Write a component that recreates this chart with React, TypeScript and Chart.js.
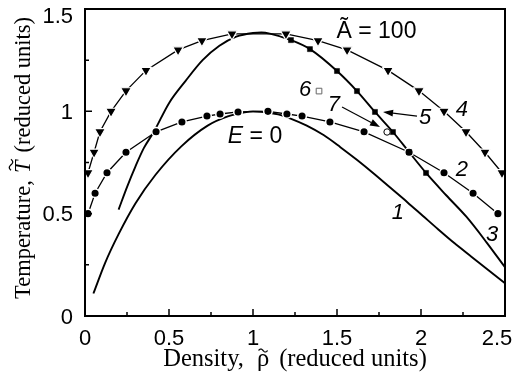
import React, { useEffect, useRef } from "react";
import { Chart, registerables } from "chart.js";

Chart.register(...registerables);

// Curve 1 (E = 0), solid
const curve1X = [0.05, 0.12, 0.2, 0.3, 0.42, 0.575, 0.73, 0.85, 0.95, 1.0, 1.05, 1.15, 1.22, 1.32, 1.42, 1.52, 1.62, 1.72, 1.82, 1.92, 2.01, 2.1, 2.2, 2.3, 2.4, 2.5];
const curve1Y = [0.11, 0.26, 0.4, 0.55, 0.69, 0.83, 0.93, 0.975, 0.995, 1.0, 0.998, 0.985, 0.966, 0.93, 0.884, 0.825, 0.762, 0.695, 0.625, 0.555, 0.49, 0.425, 0.355, 0.29, 0.225, 0.16];

// Curve 3 (A = 100), solid
const curve3X = [0.2, 0.25, 0.3, 0.35, 0.41, 0.5, 0.6, 0.7, 0.8, 0.9, 1.0, 1.05, 1.1, 1.226, 1.339, 1.5, 1.619, 1.726, 1.833, 1.929, 2.03, 2.15, 2.27, 2.39, 2.5];
const curve3Y = [0.52, 0.63, 0.73, 0.82, 0.9, 1.04, 1.15, 1.25, 1.32, 1.365, 1.383, 1.385, 1.38, 1.348, 1.304, 1.197, 1.099, 0.997, 0.899, 0.801, 0.699, 0.59, 0.485, 0.36, 0.238];

// Curve 2, circles
const curve2X = [0.018, 0.06, 0.131, 0.244, 0.423, 0.577, 0.726, 0.804, 0.911, 1.089, 1.202, 1.292, 1.458, 1.661, 1.929, 2.137, 2.31, 2.458];
const curve2Y = [0.5, 0.6, 0.7, 0.8, 0.9, 0.948, 0.977, 0.987, 0.997, 1.0, 0.987, 0.977, 0.948, 0.9, 0.8, 0.7, 0.6, 0.5];

// Curve 4, triangles
const curve4X = [0.018, 0.054, 0.089, 0.155, 0.244, 0.363, 0.554, 0.696, 0.875, 1.196, 1.387, 1.56, 1.804, 1.988, 2.137, 2.268, 2.381, 2.482];
const curve4Y = [0.7, 0.8, 0.9, 1.0, 1.1, 1.2, 1.3, 1.345, 1.378, 1.378, 1.345, 1.3, 1.2, 1.1, 1.0, 0.9, 0.8, 0.7];

// Curve 5, squares
const curve5X = [1.226, 1.339, 1.5, 1.619, 1.726, 1.833, 1.929, 2.03];
const curve5Y = [1.348, 1.304, 1.197, 1.099, 0.997, 0.899, 0.801, 0.699];

// Points 6 and 7
const point6X = [1.393];
const point6Y = [1.099];
const point7X = [1.798];
const point7Y = [0.899];

// Axis ticks
const xTickLabels = [0, 0.5, 1, 1.5, 2, 2.5];
const yTickLabels = [0, 0.5, 1, 1.5];
const xMinorTicks = [0.25, 0.75, 1.25, 1.75, 2.25];
const yMinorTicks = [0.25, 0.75, 1.25];

const toPts = (xs: number[], ys: number[]) => xs.map((x, i) => ({ x, y: ys[i] }));

const SANS = '"Liberation Sans", Arial, sans-serif';
const SERIF = '"Liberation Serif", "Times New Roman", serif';

function arrow(ctx: CanvasRenderingContext2D, x1: number, y1: number, x2: number, y2: number) {
  const ang = Math.atan2(y2 - y1, x2 - x1);
  const hl = 10;
  const hw = 3.5;
  const bx = x2 - Math.cos(ang) * hl;
  const by = y2 - Math.sin(ang) * hl;
  ctx.beginPath();
  ctx.moveTo(x1, y1);
  ctx.lineTo(bx, by);
  ctx.lineWidth = 1.2;
  ctx.stroke();
  ctx.beginPath();
  ctx.moveTo(x2, y2);
  ctx.lineTo(bx - Math.sin(ang) * hw, by + Math.cos(ang) * hw);
  ctx.lineTo(bx + Math.sin(ang) * hw, by - Math.cos(ang) * hw);
  ctx.closePath();
  ctx.fill();
}

function tilde(ctx: CanvasRenderingContext2D, cx: number, cy: number, w: number, h: number) {
  ctx.beginPath();
  for (let i = 0; i <= 20; i++) {
    const t = i / 20;
    const x = cx - w / 2 + t * w;
    const y = cy - (h / 2) * Math.sin(2 * Math.PI * t);
    if (i === 0) ctx.moveTo(x, y);
    else ctx.lineTo(x, y);
  }
  ctx.lineWidth = 1.2;
  ctx.stroke();
}

const decorPlugin = {
  id: "decor",
  afterDraw(chart: any) {
    const { ctx, chartArea: a, scales } = chart;
    const xs = scales.x;
    const ys = scales.y;
    const px = (v: number) => xs.getPixelForValue(v);
    const py = (v: number) => ys.getPixelForValue(v);
    ctx.save();
    ctx.fillStyle = "#000";
    ctx.strokeStyle = "#000";

    // frame
    ctx.lineWidth = 2;
    ctx.strokeRect(a.left, a.top, a.right - a.left, a.bottom - a.top);

    // inward ticks
    ctx.lineWidth = 1.5;
    ctx.beginPath();
    xTickLabels.forEach((v) => {
      ctx.moveTo(px(v), a.bottom);
      ctx.lineTo(px(v), a.bottom - 7);
    });
    xMinorTicks.forEach((v) => {
      ctx.moveTo(px(v), a.bottom);
      ctx.lineTo(px(v), a.bottom - 4);
    });
    yTickLabels.forEach((v) => {
      ctx.moveTo(a.left, py(v));
      ctx.lineTo(a.left + 7, py(v));
    });
    yMinorTicks.forEach((v) => {
      ctx.moveTo(a.left, py(v));
      ctx.lineTo(a.left + 4, py(v));
    });
    ctx.stroke();

    // tick labels
    ctx.font = `22px ${SANS}`;
    ctx.textBaseline = "alphabetic";
    ctx.textAlign = "center";
    xTickLabels.forEach((v, i) => {
      let x = px(v);
      if (i === xTickLabels.length - 1) x -= 8;
      ctx.fillText(String(v), x, a.bottom + 29);
    });
    ctx.textAlign = "right";
    yTickLabels.forEach((v, i) => {
      let y = py(v) + 7.5;
      if (i === yTickLabels.length - 1) y += 6;
      ctx.fillText(String(v), a.left - 12, y);
    });

    // x axis title: Density, ρ̃ (reduced units)
    ctx.textAlign = "left";
    ctx.font = `24.5px ${SERIF}`;
    {
      const y = 366;
      const p1 = "Density,";
      const p3 = "(reduced units)";
      const w1 = ctx.measureText(p1).width;
      const wr = ctx.measureText("\u03C1").width;
      const w3 = ctx.measureText(p3).width;
      const g1 = 13;
      const g2 = 10;
      const total = w1 + g1 + wr + g2 + w3;
      let x = (a.left + a.right) / 2 - total / 2;
      ctx.fillText(p1, x, y);
      x += w1 + g1;
      ctx.fillText("\u03C1", x, y);
      tilde(ctx, x + wr / 2, y - 15.5, 9, 3);
      x += wr + g2;
      ctx.fillText(p3, x, y);
    }
    // y axis title (rotated): Temperature, T̃ (reduced units)
    {
      ctx.save();
      ctx.translate(30, 0);
      ctx.rotate(-Math.PI / 2);
      const fs = 22.5;
      const p1 = "Temperature,";
      const p3 = "(reduced units)";
      ctx.font = `${fs}px ${SERIF}`;
      const w1 = ctx.measureText(p1).width;
      const w3 = ctx.measureText(p3).width;
      ctx.font = `italic ${fs}px ${SERIF}`;
      const wt = ctx.measureText("T").width;
      const g1 = 7;
      const g2 = 8;
      const total = w1 + g1 + wt + g2 + w3;
      let x = -158 - total / 2;
      ctx.font = `${fs}px ${SERIF}`;
      ctx.fillText(p1, x, 0);
      x += w1 + g1;
      ctx.font = `italic ${fs}px ${SERIF}`;
      ctx.fillText("T", x, 0);
      tilde(ctx, x + wt / 2 + 2, -19, 11, 3.5);
      x += wt + g2;
      ctx.font = `${fs}px ${SERIF}`;
      ctx.fillText(p3, x, 0);
      ctx.restore();
    }

    // in-plot labels
    ctx.textAlign = "center";
    ctx.textBaseline = "alphabetic";
    ctx.font = `23px ${SANS}`;
    ctx.fillText("\u00C3 = 100", px(1.735), py(1.358));
    {
      ctx.font = `italic 23px ${SANS}`;
      const wE = ctx.measureText("E").width;
      ctx.font = `23px ${SANS}`;
      const wR = ctx.measureText(" = 0").width;
      const x = px(1.012) - (wE + wR) / 2;
      ctx.textAlign = "left";
      ctx.font = `italic 23px ${SANS}`;
      ctx.fillText("E", x, py(0.845));
      ctx.font = `23px ${SANS}`;
      ctx.fillText(" = 0", x + wE, py(0.845));
    }
    ctx.textAlign = "center";
    ctx.textBaseline = "middle";
    ctx.font = `italic 22px ${SANS}`;
    ctx.fillText("1", px(1.863), py(0.503));
    ctx.fillText("2", px(2.244), py(0.713));
    ctx.fillText("3", px(2.423), py(0.396));
    ctx.fillText("4", px(2.244), py(1.006));
    ctx.fillText("5", px(2.024), py(0.967));
    ctx.fillText("6", px(1.31), py(1.104));
    ctx.fillText("7", px(1.482), py(1.031));

    // arrows
    arrow(ctx, px(1.976), py(0.977), px(1.774), py(0.997));
    arrow(ctx, px(1.53), py(1.021), px(1.756), py(0.923));

    ctx.restore();
  },
};

export default function App() {
  const ref = useRef<HTMLCanvasElement>(null);
  useEffect(() => {
    const chart = new Chart(ref.current as HTMLCanvasElement, {
      type: "scatter",
      data: {
        datasets: [
          {
            label: "7",
            data: toPts(point7X, point7Y),
            showLine: false,
            pointStyle: "circle",
            pointRadius: 3.2,
            pointBackgroundColor: "#fff",
            pointBorderColor: "#000",
            pointBorderWidth: 1,
            clip: false,
          },
          {
            label: "6",
            data: toPts(point6X, point6Y),
            showLine: false,
            pointStyle: "rect",
            pointRadius: 4,
            pointBackgroundColor: "#fff",
            pointBorderColor: "#666",
            pointBorderWidth: 1,
            clip: false,
          },
          {
            label: "5",
            data: toPts(curve5X, curve5Y),
            showLine: false,
            pointStyle: "rect",
            pointRadius: 3.6,
            pointBackgroundColor: "#000",
            pointBorderColor: "#000",
            pointBorderWidth: 0.5,
            clip: false,
          },
          {
            label: "4",
            data: toPts(curve4X, curve4Y),
            showLine: true,
            borderColor: "#000",
            borderWidth: 1.3,
            tension: 0,
            pointStyle: "triangle",
            pointRotation: 180,
            pointRadius: 6.2,
            pointBackgroundColor: "#000",
            pointBorderColor: "#fff",
            pointBorderWidth: 1.2,
            clip: false,
          },
          {
            label: "2",
            data: toPts(curve2X, curve2Y),
            showLine: true,
            borderColor: "#000",
            borderWidth: 1.3,
            tension: 0,
            pointStyle: "circle",
            pointRadius: 4.3,
            pointBackgroundColor: "#000",
            pointBorderColor: "#fff",
            pointBorderWidth: 1.5,
            clip: false,
          },
          {
            label: "3",
            data: toPts(curve3X, curve3Y),
            showLine: true,
            borderColor: "#000",
            borderWidth: 1.9,
            cubicInterpolationMode: "monotone",
            pointRadius: 0,
            clip: false,
          },
          {
            label: "1",
            data: toPts(curve1X, curve1Y),
            showLine: true,
            borderColor: "#000",
            borderWidth: 1.9,
            cubicInterpolationMode: "monotone",
            pointRadius: 0,
            clip: false,
          },
        ],
      },
      options: {
        responsive: false,
        animation: false,
        events: [],
        layout: { padding: { left: 0, right: 10, top: 9, bottom: 0 } },
        plugins: { legend: { display: false }, tooltip: { enabled: false } },
        scales: {
          x: {
            type: "linear",
            min: 0,
            max: 2.5,
            grid: { display: false },
            border: { display: false },
            ticks: { display: false },
            afterFit: (s: any) => {
              s.height = 69;
            },
          },
          y: {
            type: "linear",
            min: 0,
            max: 1.5,
            grid: { display: false },
            border: { display: false },
            ticks: { display: false },
            afterFit: (s: any) => {
              s.width = 85;
            },
          },
        },
      },
      plugins: [decorPlugin],
    } as any);
    return () => chart.destroy();
  }, []);
  return (
    <div style={{ position: "absolute", left: 0, top: 0, width: 515, height: 385, background: "#fff" }}>
      <canvas ref={ref} width={515} height={385} />
    </div>
  );
}
